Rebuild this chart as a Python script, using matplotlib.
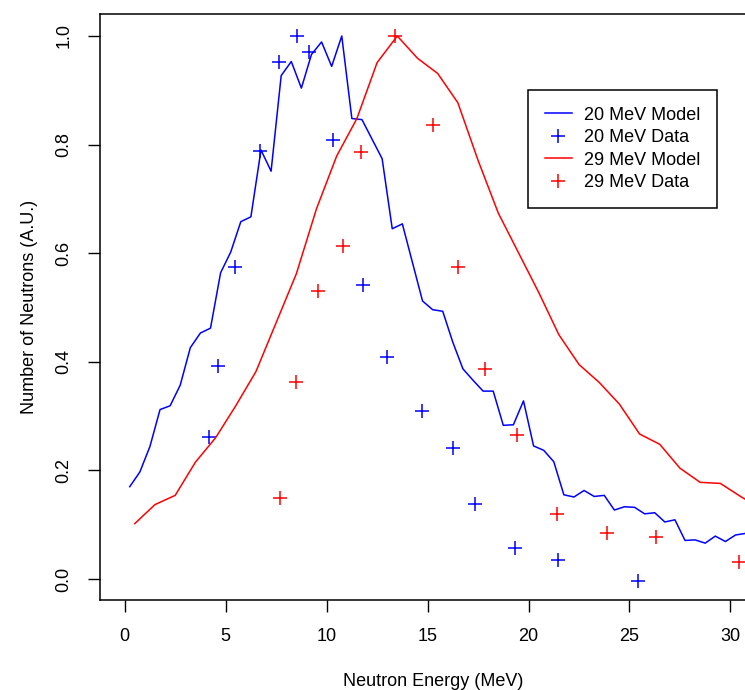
import numpy as np
import matplotlib
matplotlib.use("Agg")
import matplotlib.pyplot as plt

plt.rcParams['font.family'] = ['Liberation Sans', 'DejaVu Sans']

# ---- data ----
model20_x = [0.25 + 0.5 * k for k in range(62)]
model20_y = [0.170, 0.197, 0.244, 0.312, 0.319, 0.357, 0.426, 0.453, 0.462, 0.564,
             0.602, 0.658, 0.667, 0.790, 0.751, 0.927, 0.953, 0.904, 0.966, 0.989,
             0.944, 1.000, 0.848, 0.846, 0.810, 0.774, 0.645, 0.654, 0.583, 0.512,
             0.496, 0.493, 0.436, 0.387, 0.366, 0.346, 0.346, 0.283, 0.284, 0.328,
             0.245, 0.237, 0.216, 0.155, 0.151, 0.163, 0.152, 0.154, 0.127, 0.133,
             0.132, 0.120, 0.122, 0.105, 0.109, 0.071, 0.072, 0.066, 0.079, 0.069,
             0.081, 0.084]

data20_x = [4.16, 4.61, 5.44, 6.68, 7.62, 8.55, 9.12, 10.31, 11.80, 12.99,
            14.74, 16.26, 17.37, 19.32, 21.45, 25.43]
data20_y = [0.262, 0.393, 0.574, 0.788, 0.952, 1.000, 0.971, 0.808, 0.541, 0.408,
            0.310, 0.242, 0.139, 0.057, 0.035, -0.004]

model29_x = [0.5 + k for k in range(32)]
model29_y = [0.102, 0.137, 0.154, 0.215, 0.260, 0.319, 0.382, 0.472, 0.562, 0.682,
             0.779, 0.848, 0.951, 1.000, 0.959, 0.931, 0.877, 0.771, 0.674, 0.601,
             0.528, 0.450, 0.395, 0.362, 0.322, 0.267, 0.248, 0.204, 0.178, 0.176,
             0.152, 0.130]

data29_x = [7.67, 8.46, 9.55, 10.81, 11.69, 13.37, 15.27, 16.53, 17.83, 19.45,
            21.39, 23.87, 26.31, 30.43]
data29_y = [0.150, 0.362, 0.531, 0.613, 0.787, 1.000, 0.836, 0.574, 0.387, 0.266,
            0.119, 0.085, 0.077, 0.032]

xticks = [0, 5, 10, 15, 20, 25, 30]
yticks = [0.0, 0.2, 0.4, 0.6, 0.8, 1.0]
ytick_labels = ["0.0", "0.2", "0.4", "0.6", "0.8", "1.0"]

# ---- figure ----
W, H = 745, 690
fig = plt.figure(figsize=(W / 100, H / 100), dpi=100)
ax = fig.add_axes([100 / W, (H - 600) / H, 667 / W, 586 / H])

blue = (0, 0, 1)
red = (1, 0, 0)
lw = 1.1
ms = 9.4
mew = 1.1

ax.plot(model20_x, model20_y, color=blue, lw=lw, label="20 MeV Model")
ax.plot(data20_x, data20_y, linestyle='none', marker='+', color=blue,
        markersize=ms, markeredgewidth=mew, label="20 MeV Data")
ax.plot(model29_x, model29_y, color=red, lw=lw, label="29 MeV Model")
ax.plot(data29_x, data29_y, linestyle='none', marker='+', color=red,
        markersize=ms, markeredgewidth=mew, label="29 MeV Data")

ax.set_xlim(-1.223, 31.81)
ax.set_ylim(-0.0387, 1.0405)

ax.set_xticks(xticks)
ax.set_xticklabels([str(t) for t in xticks])
ax.set_yticks(yticks)
ax.set_yticklabels(ytick_labels, rotation=90, va='center')

fs = 13
ax.tick_params(axis='both', direction='out', length=8.4, width=1.0,
               labelsize=fs, pad=11.5, colors='black')
for sp in ax.spines.values():
    sp.set_linewidth(1.1)
    sp.set_color('black')

ax.set_xlabel("Neutron Energy (MeV)", fontsize=fs)
ax.set_ylabel("Number of Neutrons (A.U.)", fontsize=fs)
ax.xaxis.set_label_coords(0.5, -0.1246)
ax.yaxis.set_label_coords(-0.093, 0.5)

leg = ax.legend(loc='upper left', bbox_to_anchor=(528.3 / W, 1 - 90 / H),
                bbox_transform=fig.transFigure, fontsize=fs, frameon=True,
                fancybox=False, borderpad=0.92, labelspacing=0.31,
                handlelength=1.5, handletextpad=0.67, borderaxespad=0.0)
frame = leg.get_frame()
frame.set_edgecolor('black')
frame.set_linewidth(1.1)
frame.set_alpha(1.0)

fig.savefig("out.png", dpi=100)
